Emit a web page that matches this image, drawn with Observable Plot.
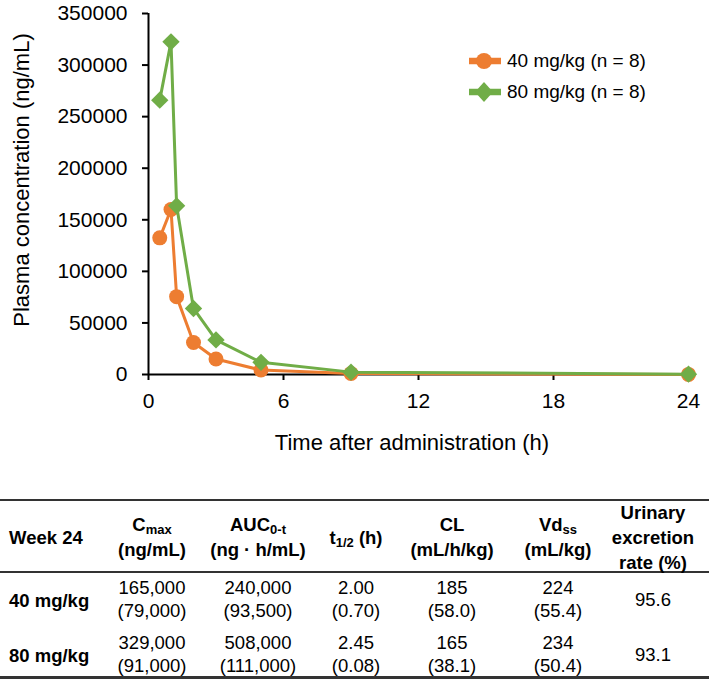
<!DOCTYPE html>
<html><head><meta charset="utf-8">
<script src="https://cdn.jsdelivr.net/npm/d3@7"></script>
<script src="https://cdn.jsdelivr.net/npm/@observablehq/plot@0.6"></script>
<style>
body{margin:0;background:#fff;font-family:Arial,"Liberation Sans",sans-serif;color:#000;}
#wrap{position:relative;width:709px;height:680px;overflow:hidden;}
.abs{position:absolute;white-space:nowrap;}
.cell{position:absolute;white-space:nowrap;text-align:center;transform:translate(-50%,-50%);font-size:18.5px;}
.cell.hd{font-weight:bold;line-height:25px;}
.cell.val{line-height:23px;}
.cell sub{font-size:13px;vertical-align:-3px;line-height:0;}
.hline{position:absolute;left:0;width:709px;background:#333;}
</style></head><body><div id="wrap"></div>
<script>
// ---- chart data ----
const timesH = [0.5, 1, 1.25, 2, 3, 5, 9, 24];
const conc40 = [132500, 160000, 75500, 31000, 15000, 4300, 1000, 100];
const conc80 = [266000, 322500, 163500, 64000, 33500, 11800, 2300, 300];
const seriesNames = ["40 mg/kg (n = 8)", "80 mg/kg (n = 8)"];
const seriesColors = ["#ED7D31", "#70AD47"];
const xTicks = [0, 6, 12, 18, 24];
const yTicks = [0, 50000, 100000, 150000, 200000, 250000, 300000, 350000];
const xTitle = "Time after administration (h)";
const yTitle = "Plasma concentration (ng/mL)";

// ---- table data ----
const tableHeaders = [["Week 24"], ["C<sub>max</sub>", "(ng/mL)"], ["AUC<sub>0-t</sub>", "(ng · h/mL)"],
  ["t<sub>1/2</sub> (h)"], ["CL", "(mL/h/kg)"], ["Vd<sub>ss</sub>", "(mL/kg)"], ["Urinary", "excretion", "rate (%)"]];
const rowLabels = ["40 mg/kg", "80 mg/kg"];
const cmaxMean = ["165,000", "329,000"], cmaxSD = ["(79,000)", "(91,000)"];
const aucMean = ["240,000", "508,000"], aucSD = ["(93,500)", "(111,000)"];
const thalfMean = ["2.00", "2.45"], thalfSD = ["(0.70)", "(0.08)"];
const clMean = ["185", "165"], clSD = ["(58.0)", "(38.1)"];
const vdMean = ["224", "234"], vdSD = ["(55.4)", "(50.4)"];
const urinary = ["95.6", "93.1"];

const wrap = document.getElementById("wrap");
const font = 'Arial,"Liberation Sans",sans-serif';

const d40 = timesH.map((t, i) => ({t, c: conc40[i]}));
const d80 = timesH.map((t, i) => ({t, c: conc80[i]}));

const chart = Plot.plot({
  width: 709, height: 470,
  marginLeft: 148, marginRight: 21, marginTop: 13, marginBottom: 96,
  style: {fontFamily: font, fontSize: "21px", color: "#000", background: "transparent", overflow: "visible"},
  x: {domain: [0, 24]},
  y: {domain: [0, 350000]},
  marks: [
    Plot.axisX({ticks: xTicks, tickSize: 6, tickPadding: 13, strokeWidth: 2, label: null, fontSize: 21}),
    Plot.axisY({ticks: yTicks, tickSize: 6, tickPadding: 15, strokeWidth: 2, label: null, fontSize: 21, tickFormat: d => String(d)}),
    Plot.ruleY([0], {stroke: "#000", strokeWidth: 2}),
    Plot.ruleX([0], {stroke: "#000", strokeWidth: 2}),
    Plot.line(d40, {x: "t", y: "c", stroke: seriesColors[0], strokeWidth: 3}),
    Plot.dot(d40, {x: "t", y: "c", r: 7.5, fill: seriesColors[0], symbol: "circle"}),
    Plot.line(d80, {x: "t", y: "c", stroke: seriesColors[1], strokeWidth: 3}),
    Plot.dot(d80, {x: "t", y: "c", r: 7.8, fill: seriesColors[1], symbol: "diamond2"})
  ]
});
chart.style.position = "absolute";
chart.style.left = "0px";
chart.style.top = "0px";
wrap.appendChild(chart);

// axis titles
const yt = document.createElement("div");
yt.className = "abs";
yt.textContent = yTitle;
yt.style.cssText += "left:22px;top:180px;font-size:22px;transform:translate(-50%,-50%) rotate(-90deg);";
wrap.appendChild(yt);
const xt = document.createElement("div");
xt.className = "abs";
xt.textContent = xTitle;
xt.style.cssText += "left:412px;top:443px;font-size:22px;transform:translate(-50%,-50%);";
wrap.appendChild(xt);

// legend
const legY = [61, 92];
seriesNames.forEach((name, i) => {
  const sym = i === 0
    ? `<circle cx="15" cy="11" r="8" fill="${seriesColors[i]}"/>`
    : `<path d="M15,1 L24,11 L15,21 L6,11 Z" fill="${seriesColors[i]}"/>`;
  const item = document.createElement("div");
  item.className = "abs";
  item.style.cssText += `left:469px;top:${legY[i] - 11}px;height:22px;display:flex;align-items:center;font-size:19px;`;
  item.innerHTML = `<svg width="32" height="22" style="margin-right:6px"><line x1="0" x2="32" y1="11" y2="11" stroke="${seriesColors[i]}" stroke-width="6.5"/>${sym}</svg><span>${name}</span>`;
  wrap.appendChild(item);
});

// table
const colX = [152, 258, 356, 452, 558, 653];
const lines = [[500, 2], [571.5, 2], [677.5, 3]];
lines.forEach(([y, h]) => {
  const l = document.createElement("div");
  l.className = "hline";
  l.style.top = (y - h / 2) + "px";
  l.style.height = h + "px";
  wrap.appendChild(l);
});
function cell(html, x, y, cls, left) {
  const c = document.createElement("div");
  c.className = "cell " + cls;
  c.innerHTML = html;
  c.style.left = x + "px";
  c.style.top = y + "px";
  if (left) { c.style.transform = "translate(0,-50%)"; c.style.textAlign = "left"; }
  wrap.appendChild(c);
}
const headY = 537;
cell(tableHeaders[0].join("<br>"), 9, headY, "hd", true);
tableHeaders.slice(1).forEach((h, j) => cell(h.join("<br>"), colX[j], headY, "hd"));
const rowY = [598.5, 653.5];
rowLabels.forEach((lab, i) => {
  cell(lab, 9, rowY[i] + 1, "hd", true);
  const vals = [[cmaxMean, cmaxSD], [aucMean, aucSD], [thalfMean, thalfSD], [clMean, clSD], [vdMean, vdSD]];
  vals.forEach(([m, s], j) => cell(m[i] + "<br>" + s[i], colX[j], rowY[i], "val"));
  cell(urinary[i], colX[5], rowY[i], "val");
});
</script></body></html>
